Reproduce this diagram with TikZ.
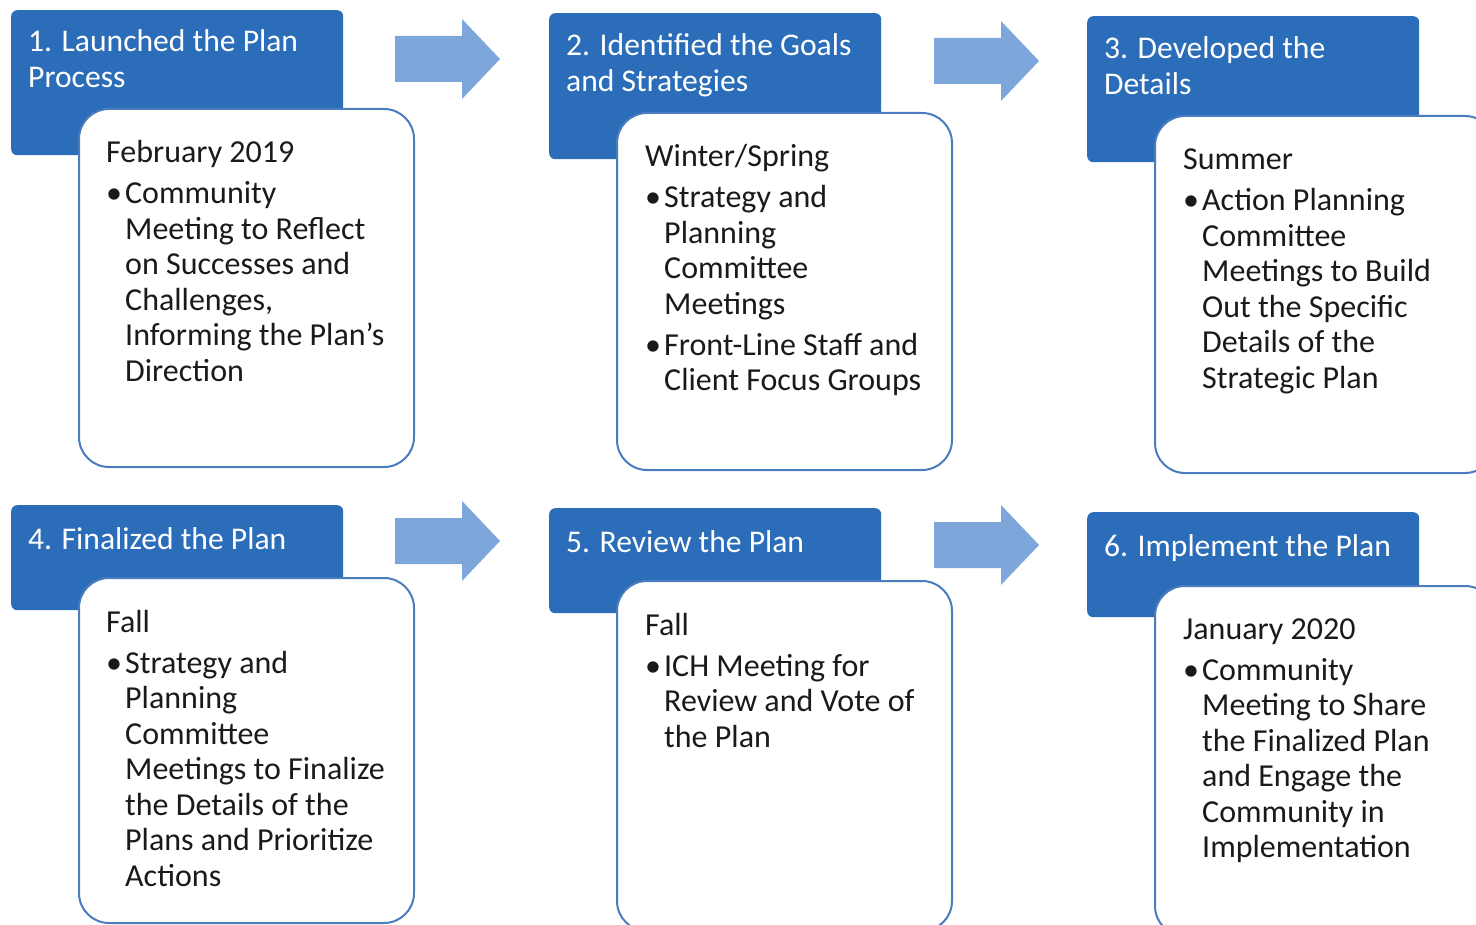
\documentclass[tikz,border=0pt]{standalone}
\usepackage{fontspec}
\setmainfont{Carlito}
\definecolor{hdr}{HTML}{2B6DB8}
\definecolor{arr}{HTML}{7DA7DB}
\definecolor{bord}{HTML}{4A7CBE}
\definecolor{txt}{HTML}{1A1A1A}
\newcommand\bul{\makebox[19pt][l]{\textbullet}}
\newcommand\ind{\hspace*{19pt}}
\newcommand\lines[1]{\begin{tabular}[t]{@{}l@{}}#1\end{tabular}}
\tikzset{
 hdrbox/.style={fill=hdr, rounded corners=6pt, anchor=north west, inner sep=0pt, minimum width=332pt},
 bodybox/.style={draw=bord, line width=2pt, fill=white, rounded corners=30pt, anchor=north west, inner sep=0pt, minimum width=335pt},
 hdrtext/.style={text=white, font=\fontsize{31.6}{36}\selectfont, anchor=base west, inner sep=0pt},
 bodytext/.style={text=txt, font=\fontsize{32}{35.5}\selectfont, anchor=base west, inner sep=0pt},
 blockarr/.pic={\fill[arr] (0,-23) -- (67,-23) -- (67,-40) -- (105,0) -- (67,40) -- (67,23) -- (0,23) -- cycle;}
}
\begin{document}
\begin{tikzpicture}[x=1pt,y=-1pt]
\useasboundingbox (0,0) rectangle (1476,925);
\clip (0,0) rectangle (1476,925);
% row 1
\node[hdrbox, minimum height=145pt] (h1) at (11,10) {};
\node[hdrbox, minimum height=146pt] (h2) at (549,13) {};
\node[hdrbox, minimum height=146pt] (h3) at (1087,16) {};
\node[bodybox, minimum height=358pt] (b1) at (78,108) {};
\node[bodybox, minimum height=357pt] (b2) at (616,112) {};
\node[bodybox, minimum height=357pt, minimum width=340pt] (b3) at (1154,115) {};
\node[hdrtext] (h1t) at (28,52) {\lines{1. Launched the Plan\\Process}};
\node[hdrtext] (h2t) at (566,56) {\lines{2. Identified the Goals\\and Strategies}};
\node[hdrtext] (h3t) at (1104,59) {\lines{3. Developed the\\Details}};
\node[bodytext] (b1t) at (106,163) {\lines{February 2019\\[5.5pt]
\bul Community\\ \ind Meeting to Reflect\\ \ind on Successes and\\ \ind Challenges,\\ \ind Informing the Plan’s\\ \ind Direction}};
\node[bodytext] (b2t) at (645,167) {\lines{Winter/Spring\\[5.5pt]
\bul Strategy and\\ \ind Planning\\ \ind Committee\\ \ind Meetings\\[5.5pt]
\bul Front-Line Staff and\\ \ind Client Focus Groups}};
\node[bodytext] (b3t) at (1183,170) {\lines{Summer\\[5.5pt]
\bul Action Planning\\ \ind Committee\\ \ind Meetings to Build\\ \ind Out the Specific\\ \ind Details of the\\ \ind Strategic Plan}};
\pic at (395,59) {blockarr};
\pic at (934,61) {blockarr};
% row 2
\node[hdrbox, minimum height=105pt] (h4) at (11,505) {};
\node[hdrbox, minimum height=105pt] (h5) at (549,508) {};
\node[hdrbox, minimum height=105pt] (h6) at (1087,512) {};
\node[bodybox, minimum height=345pt] (b4) at (78,577) {};
\node[bodybox, minimum height=350pt] (b5) at (616,580) {};
\node[bodybox, minimum height=350pt, minimum width=340pt] (b6) at (1154,585) {};
\node[hdrtext] (h4t) at (28,549) {\lines{4. Finalized the Plan}};
\node[hdrtext] (h5t) at (566,552) {\lines{5. Review the Plan}};
\node[hdrtext] (h6t) at (1104,556) {\lines{6. Implement the Plan}};
\node[bodytext] (b4t) at (106,632) {\lines{Fall\\[5.5pt]
\bul Strategy and\\ \ind Planning\\ \ind Committee\\ \ind Meetings to Finalize\\ \ind the Details of the\\ \ind Plans and Prioritize\\ \ind Actions}};
\node[bodytext] (b5t) at (645,635) {\lines{Fall\\[5.5pt]
\bul ICH Meeting for\\ \ind Review and Vote of\\ \ind the Plan}};
\node[bodytext] (b6t) at (1183,639) {\lines{January 2020\\[5.5pt]
\bul Community\\ \ind Meeting to Share\\ \ind the Finalized Plan\\ \ind and Engage the\\ \ind Community in\\ \ind Implementation}};
\pic at (395,541) {blockarr};
\pic at (934,545) {blockarr};
\end{tikzpicture}
\end{document}
